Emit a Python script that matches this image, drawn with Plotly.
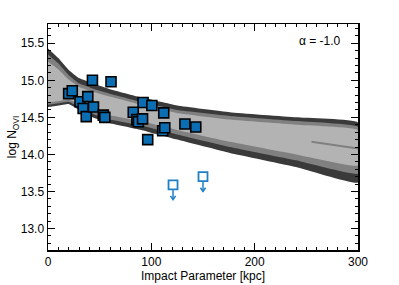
import plotly.graph_objects as go

# Model band boundaries (log N_OVI) vs impact parameter
band_x = [0, 10, 20, 30, 45, 60, 90, 125, 176, 240, 300]
top_outer = [15.43, 15.30, 15.14, 15.03, 14.95, 14.88, 14.77, 14.66, 14.57, 14.50, 14.43]
top_mid = [15.35, 15.23, 15.07, 14.96, 14.88, 14.82, 14.71, 14.60, 14.52, 14.45, 14.37]
top_inner = [15.25, 15.15, 15.01, 14.91, 14.84, 14.78, 14.67, 14.56, 14.47, 14.40, 14.33]
bot_inner = [14.70, 14.72, 14.74, 14.68, 14.59, 14.53, 14.45, 14.33, 14.17, 14.00, 13.85]
bot_mid = [14.67, 14.69, 14.71, 14.64, 14.54, 14.47, 14.39, 14.27, 14.10, 13.92, 13.74]
bot_outer = [14.64, 14.66, 14.68, 14.60, 14.49, 14.42, 14.33, 14.20, 14.02, 13.83, 13.62]

streak_x = [255, 300]
streak_y = [14.17, 14.08]

# Detections
det_x = [20, 23.5, 31, 34, 37, 38.5, 43, 44, 53.5, 55, 61, 82.5, 86, 87.5, 91.5,
         92, 96.5, 100.5, 112, 111, 113, 132.5, 143]
det_y = [14.82, 14.86, 14.71, 14.62, 14.51, 14.78, 15.00, 14.64, 14.53, 14.50, 14.98,
         14.57, 14.47, 14.44, 14.48, 14.70, 14.20, 14.66, 14.56, 14.32, 14.36, 14.41, 14.37]

# Upper limits
lim_x = [121, 150]
lim_y = [13.59, 13.70]

x_ticks = [0, 100, 200, 300]
y_ticks = [13.0, 13.5, 14.0, 14.5, 15.0, 15.5]

DARK = "#3a3a3a"
MED = "#808080"
LIGHT = "#b3b3b3"
BLUE = "#0b6eb3"
BLUE_OPEN = "#1f80c6"

fig = go.Figure()

def band(top, bot, color):
    fig.add_trace(go.Scatter(
        x=band_x + band_x[::-1], y=top + bot[::-1],
        fill="toself", fillcolor=color, mode="lines",
        line=dict(width=0, color=color, shape="spline", smoothing=0.3),
        hoverinfo="skip", showlegend=False))

band(top_outer, bot_outer, DARK)
band(top_mid, bot_mid, MED)
band(top_inner, bot_inner, LIGHT)

fig.add_trace(go.Scatter(x=streak_x, y=streak_y, mode="lines",
                         line=dict(color=MED, width=2), showlegend=False,
                         hoverinfo="skip"))

# arrows for upper limits
ax, ay = [], []
for xv, yv in zip(lim_x, lim_y):
    ax += [xv, xv, None, xv - 2.5, xv, xv + 2.5, None]
    ay += [yv - 0.06, yv - 0.20, None, yv - 0.15, yv - 0.20, yv - 0.15, None]
fig.add_trace(go.Scatter(x=ax, y=ay, mode="lines",
                         line=dict(color=BLUE_OPEN, width=1.5),
                         showlegend=False, hoverinfo="skip"))

fig.add_trace(go.Scatter(x=lim_x, y=lim_y, mode="markers",
                         marker=dict(symbol="square", size=9, color="white",
                                     line=dict(color=BLUE_OPEN, width=1.8)),
                         showlegend=False))

fig.add_trace(go.Scatter(x=det_x, y=det_y, mode="markers",
                         marker=dict(symbol="square", size=10, color=BLUE,
                                     line=dict(color="black", width=1.6)),
                         showlegend=False))

fig.add_annotation(x=0.95, y=0.965, xref="paper", yref="paper",
                   text="\u03b1 = -1.0", showarrow=False,
                   xanchor="right", yanchor="top",
                   font=dict(size=12, color="black"))

axis_common = dict(showgrid=False, zeroline=False, showline=True,
                   linecolor="black", linewidth=1.5, mirror="ticks",
                   ticks="inside", tickcolor="black", tickwidth=1,
                   automargin=False,
                   tickfont=dict(size=12, color="black"))

fig.update_xaxes(range=[0, 300], tickvals=x_ticks, ticklen=7,
                 minor=dict(dtick=10, ticklen=3, ticks="inside", tickcolor="black"),
                 title=dict(text="Impact Parameter [kpc]", standoff=0,
                            font=dict(size=12, color="black")),
                 **axis_common)
fig.update_yaxes(range=[12.71, 15.76], tickvals=y_ticks,
                 ticktext=[f"{v:.1f}" for v in y_ticks], ticklen=7,
                 minor=dict(dtick=0.1, ticklen=3, ticks="inside", tickcolor="black"),
                 title=dict(text="log N<sub>OVI</sub>", standoff=0,
                            font=dict(size=12, color="black")),
                 **axis_common)

fig.update_layout(width=399, height=285,
                  margin=dict(l=48, r=41, t=24, b=35),
                  paper_bgcolor="white", plot_bgcolor="white",
                  font=dict(family="Liberation Sans, Arial, sans-serif", size=12,
                            color="black"),
                  showlegend=False)

fig.write_html("out.html", config={"displayModeBar": False, "staticPlot": True},
               post_script="document.body.style.margin='0';"
                           "document.body.style.overflow='hidden';")
